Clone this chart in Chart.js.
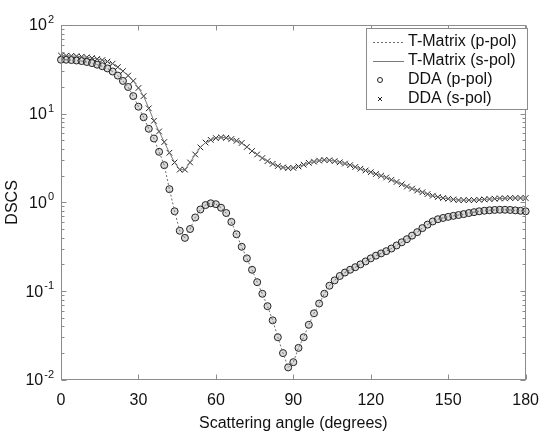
<!DOCTYPE html>
<html>
<head>
<meta charset="utf-8">
<script src="https://cdn.jsdelivr.net/npm/chart.js@4.4.0/dist/chart.umd.min.js"></script>
<style>
  html, body { margin: 0; padding: 0; background: #fff; }
  #wrap { width: 544px; height: 433px; }
</style>
</head>
<body>
<div id="wrap"><canvas id="dscs"></canvas></div>
<script>
// scattering angle (degrees)
const angles = [0, 2, 4, 6, 8, 10, 12, 14, 16, 18, 20, 22, 24, 26, 28, 30, 32, 34, 36, 38,
  40, 42, 44, 46, 48, 50, 52, 54, 56, 58, 60, 62, 64, 66, 68, 70, 72, 74, 76, 78,
  80, 82, 84, 86, 88, 90, 92, 94, 96, 98, 100, 102, 104, 106, 108, 110, 112, 114, 116, 118,
  120, 122, 124, 126, 128, 130, 132, 134, 136, 138, 140, 142, 144, 146, 148, 150, 152, 154, 156, 158,
  160, 162, 164, 166, 168, 170, 172, 174, 176, 178, 180];

// DSCS, s-polarisation
const sPol = [45.2, 45.1, 44.9, 44.5, 43.9, 43.2, 42.4, 41.4, 40.2, 38.7, 36.7, 33.5, 30.2, 26.9, 23.4, 19.5, 15.8, 11.5, 8.32, 6.31,
  4.79, 3.63, 2.82, 2.34, 2.34, 2.82, 3.47, 4.17, 4.73, 5.07, 5.31, 5.40, 5.35, 5.19, 4.95, 4.68, 4.22, 3.80, 3.47, 3.16,
  2.92, 2.72, 2.57, 2.48, 2.44, 2.45, 2.54, 2.66, 2.79, 2.88, 2.96, 3.01, 2.99, 2.92, 2.83, 2.74, 2.63, 2.51, 2.40, 2.29,
  2.19, 2.09, 2.00, 1.91, 1.80, 1.70, 1.60, 1.51, 1.43, 1.36, 1.30, 1.24, 1.19, 1.15, 1.12, 1.10, 1.08, 1.06, 1.06, 1.06,
  1.06, 1.07, 1.08, 1.09, 1.10, 1.11, 1.11, 1.12, 1.12, 1.12, 1.12];

// DSCS, p-polarisation
const pPol = [40.6, 40.6, 40.3, 39.8, 39.2, 38.3, 37.2, 35.7, 34.3, 32.4, 29.9, 26.9, 23.4, 20.0, 15.8, 12.0, 9.12, 6.76, 5.25, 3.72,
  2.63, 1.41, 0.794, 0.479, 0.398, 0.501, 0.676, 0.832, 0.933, 0.977, 0.955, 0.871, 0.759, 0.603, 0.437, 0.316, 0.234, 0.174, 0.126, 0.0933,
  0.0676, 0.0468, 0.0302, 0.0200, 0.0138, 0.0158, 0.0229, 0.0302, 0.0417, 0.0562, 0.0724, 0.0933, 0.115, 0.132, 0.148, 0.162, 0.174, 0.186, 0.200, 0.216,
  0.234, 0.251, 0.266, 0.282, 0.302, 0.327, 0.355, 0.385, 0.422, 0.462, 0.513, 0.562, 0.610, 0.646, 0.668, 0.687, 0.705, 0.721, 0.738, 0.759,
  0.776, 0.794, 0.805, 0.815, 0.822, 0.826, 0.826, 0.822, 0.813, 0.804, 0.794];

const xTicks = [0, 30, 60, 90, 120, 150, 180];
const yDecades = [0.01, 0.1, 1, 10, 100];
const legendLabels = ['T-Matrix (p-pol)', 'T-Matrix (s-pol)', 'DDA (p-pol)', 'DDA (s-pol)'];

const FONT = '"Liberation Sans", Arial, sans-serif';
const AXIS_GREY = '#8c8c8c';

function pts(vals) {
  return angles.map((a, i) => ({ x: a, y: vals[i] }));
}

// frame, inward ticks, y labels with exponents, y title and the boxed legend
const decor = {
  id: 'decor',
  afterDatasetsDraw(chart) {
    const { ctx, chartArea: a, scales: { x, y } } = chart;
    const L = Math.round(a.left) + 0.5, R = Math.round(a.right) - 0.5;
    const T = Math.round(a.top) + 0.5, B = Math.round(a.bottom) - 0.5;
    ctx.save();
    ctx.strokeStyle = AXIS_GREY;
    ctx.lineWidth = 1;
    ctx.strokeRect(L, T, R - L, B - T);

    ctx.beginPath();
    xTicks.forEach(v => {
      const px = Math.round(x.getPixelForValue(v)) + 0.5;
      ctx.moveTo(px, B); ctx.lineTo(px, B - 5);
      ctx.moveTo(px, T); ctx.lineTo(px, T + 5);
    });
    yDecades.forEach((d, i) => {
      const py = Math.round(y.getPixelForValue(d)) + 0.5;
      ctx.moveTo(L, py); ctx.lineTo(L + 5, py);
      ctx.moveTo(R, py); ctx.lineTo(R - 5, py);
      if (i < yDecades.length - 1) {
        for (let m = 2; m <= 9; m++) {
          const my = Math.round(y.getPixelForValue(d * m)) + 0.5;
          ctx.moveTo(L, my); ctx.lineTo(L + 3, my);
          ctx.moveTo(R, my); ctx.lineTo(R - 3, my);
        }
      }
    });
    ctx.stroke();

    // y tick labels 10^n
    ctx.fillStyle = '#111';
    ctx.textBaseline = 'middle';
    yDecades.forEach(d => {
      const py = y.getPixelForValue(d);
      const exp = String(Math.round(Math.log10(d)));
      ctx.font = '11px ' + FONT;
      ctx.textAlign = 'right';
      const ew = ctx.measureText(exp).width;
      ctx.fillText(exp, 54, py - 5);
      ctx.font = '16px ' + FONT;
      ctx.fillText('10', 54 - ew - 1, py + 1);
    });

    // y title
    ctx.save();
    ctx.translate(13, (a.top + a.bottom) / 2);
    ctx.rotate(-Math.PI / 2);
    ctx.textAlign = 'center';
    ctx.font = '16px ' + FONT;
    ctx.fillText('DSCS', 0, 0);
    ctx.restore();

    // legend box
    const bx = 366.5, by = 28.5, bw = 161, bh = 81;
    ctx.fillStyle = '#fff';
    ctx.fillRect(bx, by, bw, bh);
    ctx.strokeStyle = AXIS_GREY;
    ctx.strokeRect(bx, by, bw, bh);
    ctx.font = '16px ' + FONT;
    ctx.textAlign = 'left';
    ctx.textBaseline = 'middle';
    legendLabels.forEach((lab, i) => {
      const ly = 42 + i * 19;
      const ds = chart.data.datasets[i];
      ctx.save();
      ctx.lineWidth = 1;
      if (i < 2) {
        ctx.strokeStyle = ds.borderColor;
        ctx.setLineDash(ds.borderDash || []);
        ctx.beginPath();
        ctx.moveTo(373, Math.round(ly) + 0.5);
        ctx.lineTo(404, Math.round(ly) + 0.5);
        ctx.stroke();
      } else {
        ctx.strokeStyle = '#222';
        ctx.beginPath();
        if (ds.pointStyle === 'circle') {
          ctx.arc(380, ly, 2.5, 0, Math.PI * 2);
        } else {
          ctx.moveTo(378, ly - 2); ctx.lineTo(382, ly + 2);
          ctx.moveTo(382, ly - 2); ctx.lineTo(378, ly + 2);
        }
        ctx.stroke();
      }
      ctx.restore();
      ctx.fillStyle = '#111';
      ctx.fillText(lab, 408, ly);
    });
    ctx.restore();
  }
};

new Chart(document.getElementById('dscs'), {
  type: 'line',
  data: {
    datasets: [
      {
        label: legendLabels[0], data: pts(pPol),
        borderColor: '#6e6e6e', borderWidth: 1, borderDash: [2, 2],
        pointRadius: 0, fill: false
      },
      {
        label: legendLabels[1], data: pts(sPol),
        borderColor: '#7a7a7a', borderWidth: 1,
        pointRadius: 0, fill: false
      },
      {
        label: legendLabels[2], data: pts(pPol), showLine: false,
        pointStyle: 'circle', pointRadius: 3.5, borderWidth: 1,
        borderColor: '#222', backgroundColor: 'rgba(150,150,150,0.35)', clip: false
      },
      {
        label: legendLabels[3], data: pts(sPol), showLine: false,
        pointStyle: 'crossRot', pointRadius: 4, borderWidth: 1,
        borderColor: '#222', backgroundColor: '#222', clip: false
      }
    ]
  },
  options: {
    responsive: true,
    maintainAspectRatio: false,
    animation: false,
    devicePixelRatio: 1,
    layout: { padding: { left: 61, right: 14, top: 25, bottom: 0 } },
    plugins: { legend: { display: false }, tooltip: { enabled: false } },
    scales: {
      x: {
        type: 'linear', min: 0, max: 180,
        grid: { display: false },
        border: { display: false },
        ticks: {
          stepSize: 30, padding: 5, color: '#111',
          font: { family: FONT, size: 16, lineHeight: 1.0 }
        },
        title: {
          display: true, text: 'Scattering angle (degrees)', color: '#111',
          font: { family: FONT, size: 16 }, padding: { top: 0, bottom: 0 }
        }
      },
      y: {
        type: 'logarithmic', min: 0.01, max: 100,
        display: false
      }
    }
  },
  plugins: [decor]
});
</script>
</body>
</html>
